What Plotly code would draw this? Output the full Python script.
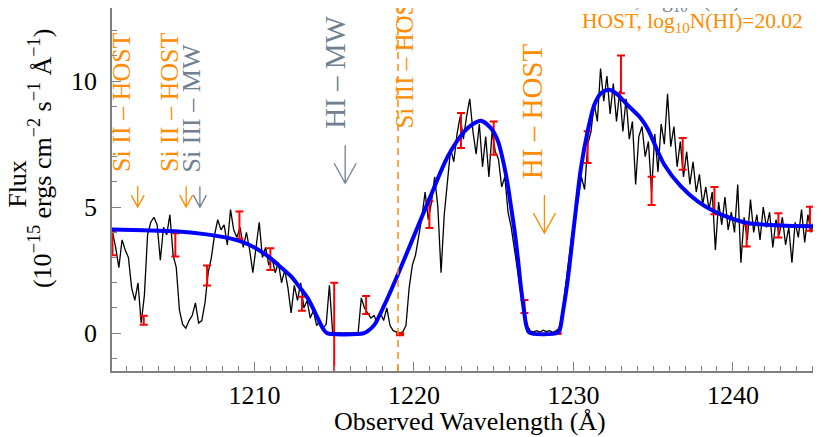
import plotly.graph_objects as go
import numpy as np

# observed spectrum, 0.2 A bins from 1201.1 to 1245.9 (one row per Angstrom)
wave_start = 1201.1
wave_end = 1245.9
flux = [
    4.0, 3.4, 2.6, 3.7, 3.3,     # 1201
    3.0, 1.8, 1.3, 2.0, 0.4,     # 1202
    1.5, 3.9, 4.4, 4.6, 4.3,     # 1203
    2.9, 4.2, 3.9, 4.7, 3.1,     # 1204
    2.6, 0.9, 0.35, 0.2, 0.5,    # 1205
    0.7, 1.2, 0.4, 0.5, 1.2,     # 1206
    2.4, 3.0, 3.9, 4.5, 4.1,     # 1207
    4.3, 3.5, 4.9, 4.1, 3.8,     # 1208
    4.2, 3.4, 4.0, 3.3, 2.4,     # 1209
    3.3, 4.4, 3.0, 3.4, 2.7,     # 1210
    3.0, 2.4, 2.8, 2.0, 2.5,     # 1211
    1.8, 0.8, 1.9, 1.3, 2.0,     # 1212
    1.0, 1.3, 0.6, 0.9, 0.3,     # 1213
    0.5, 0.2, 0.35, 1.9, 0.05,   # 1214
    0.0, 0.02, 0.0, 0.01, 0.0,   # 1215
    0.0, 0.02, 0.0, 1.4, 1.0,    # 1216
    0.8, 0.6, 0.7, 0.4, 0.8,     # 1217
    0.5, 1.0, 0.3, 0.1, 0.05,    # 1218
    0.0, 0.05, 0.3, 1.8, 2.7,    # 1219
    3.1, 3.8, 4.6, 5.6, 4.5,     # 1220
    5.2, 6.2, 5.0, 2.4, 4.7,     # 1221
    6.0, 7.3, 6.8, 7.9, 8.6,     # 1222
    7.7, 8.6, 9.3, 8.0, 7.1,     # 1223
    8.3, 6.6, 7.8, 6.2, 8.0,     # 1224
    7.2, 6.9, 5.8, 6.2, 4.8,     # 1225
    4.2, 3.3, 2.6, 1.6, 0.9,     # 1226
    0.3, 0.08, 0.05, 0.1, 0.04,  # 1227
    0.12, 0.06, 0.1, 0.03, 0.09, # 1228
    0.2, 0.8, 1.9, 2.9, 3.9,     # 1229
    4.6, 5.3, 6.2, 5.7, 7.5,     # 1230
    8.0, 9.1, 8.4, 10.5, 9.2,    # 1231
    10.2, 8.7, 9.9, 8.4, 9.6,    # 1232
    8.0, 9.3, 7.7, 8.4, 5.9,     # 1233
    7.8, 8.2, 7.0, 7.6, 5.6,     # 1234
    7.9, 6.4, 8.3, 7.5, 9.5,     # 1235
    7.4, 8.2, 6.6, 7.6, 6.2,     # 1236
    7.2, 5.9, 6.8, 5.6, 6.3,     # 1237
    5.1, 5.8, 4.9, 5.6, 3.3,     # 1238
    5.2, 4.3, 5.4, 4.1, 4.8,     # 1239
    4.0, 5.9, 2.8, 4.6, 3.7,     # 1240
    5.3, 4.0, 4.7, 3.7, 5.0,     # 1241
    4.2, 4.8, 3.4, 4.5, 3.9,     # 1242
    4.6, 3.5, 4.2, 2.8, 4.4,     # 1243
    3.8, 4.9, 3.6, 4.7, 4.0,     # 1244
    4.5, 3.7, 4.6, 4.1, 3.9,     # 1245
]
wave = np.linspace(wave_start, wave_end, len(flux))

# binned points with errors
err_wave = [1201.1, 1203.06, 1205.04, 1207.03, 1209.06, 1211.0, 1212.98, 1215.0,
            1217.0, 1219.13, 1220.97, 1222.95, 1225.0, 1226.93, 1229.01, 1230.89,
            1232.98, 1234.9, 1236.85, 1238.84, 1240.86, 1242.85, 1244.83]
err_flux = [3.57, 0.51, 3.5, 2.29, 4.29, 2.94, 1.17, 0.1,
            1.12, -0.04, 4.7, 8.04, 7.74, 1.06, 0.0, 7.38,
            10.27, 5.65, 7.11, 5.26, 3.87, 4.28, 4.54]
err_size = [0.48, 0.18, 0.46, 0.40, 0.54, 0.43, 0.28, 1.9,
            0.36, 0.04, 0.53, 0.69, 0.66, 0.26, 0.03, 0.63,
            0.75, 0.56, 0.63, 0.54, 0.43, 0.48, 0.48]

# DLA model fit
model_wave = [1201.07, 1203.0, 1205.0, 1207.0, 1208.0, 1209.0, 1210.0, 1211.0,
              1211.6, 1212.3, 1212.8, 1213.34, 1213.97, 1214.3, 1214.55, 1216.85,
              1217.1, 1217.52, 1218.15, 1218.98, 1220.03, 1221.07, 1222.12, 1223.16,
              1223.7, 1224.2, 1224.83, 1225.28, 1225.67, 1225.88, 1226.09, 1226.3,
              1226.51, 1226.71, 1226.9, 1227.03, 1227.24, 1229.0, 1229.15, 1229.33,
              1229.64, 1230.06, 1230.47, 1230.89, 1231.31, 1231.73, 1232.26, 1232.78,
              1233.4, 1234.22, 1234.66, 1235.7, 1236.74, 1237.79, 1238.84, 1239.88,
              1240.93, 1243.0, 1245.96]
model_flux = [4.11, 4.08, 4.04, 3.92, 3.82, 3.67, 3.40, 2.98,
              2.65, 2.25, 1.85, 1.39, 0.60, 0.18, 0.0, 0.0,
              0.08, 0.33, 1.12, 2.31, 3.90, 5.48, 7.01, 8.0,
              8.3, 8.43, 8.13, 7.6, 6.6, 5.9, 5.0, 4.1,
              3.0, 1.8, 0.9, 0.35, 0.02, 0.02, 0.15, 0.8,
              2.1, 4.4, 6.55, 8.0, 9.06, 9.52, 9.66, 9.46,
              9.05, 8.53, 8.1, 6.68, 5.82, 5.23, 4.83, 4.56,
              4.37, 4.27, 4.23]

# line identifications
line_names = ['Si II \u2013 HOST', 'Si II \u2013 HOST', 'Si III \u2013 MW', 'HI \u2013 MW', 'HI \u2013 HOST']
line_wave = [1202.68, 1205.72, 1206.58, 1215.69, 1228.18]   # arrow position
text_wave = [1201.62, 1204.64, 1206.04, 1215.01, 1227.40]   # label position
arrow_tip = [5.0, 5.0, 5.0, 5.95, 3.97]
text_base = [6.31, 6.31, 6.31, 8.02, 6.03]
si3_host_wave = 1219.0

ORANGE = '#FF8C00'
GRAY = '#708090'
SERIF = 'Liberation Serif'
line_colors = [ORANGE, ORANGE, GRAY, GRAY, ORANGE]
big = [False, False, False, True, True]

fig = go.Figure()

fig.add_trace(go.Scatter(
    x=wave, y=flux, mode='lines', line=dict(color='black', width=1.3),
    showlegend=False, hoverinfo='skip'
))

fig.add_trace(go.Scatter(
    x=err_wave, y=err_flux, mode='markers', marker=dict(size=1, color='red'),
    error_y=dict(type='data', array=err_size, color='red', thickness=2, width=4),
    showlegend=False
))

fig.add_trace(go.Scatter(
    x=model_wave, y=model_flux, mode='lines',
    line=dict(color='#0000FF', width=4, shape='spline', smoothing=0.8),
    showlegend=False
))

# Si III host line
fig.add_shape(type='line', xref='x', yref='paper', x0=si3_host_wave, x1=si3_host_wave,
              y0=0, y1=1, line=dict(color=ORANGE, width=1.5, dash='7px,5px'))
fig.add_annotation(x=si3_host_wave + 0.35, y=8.02, xref='x', yref='y',
                   text='Si III \u2013 HOST', showarrow=False, textangle=-90,
                   xanchor='center', yanchor='bottom',
                   font=dict(family=SERIF, size=25, color=ORANGE))

for i, name in enumerate(line_names):
    length, head, half = (38, 20, 11) if big[i] else (21, 12, 6.5)
    # open arrow pointing down, drawn in pixels from the tip
    fig.add_shape(type='path', xref='x', yref='y', xsizemode='pixel', ysizemode='pixel',
                  xanchor=line_wave[i], yanchor=arrow_tip[i],
                  path='M0,0 L0,%d M%g,%d L0,0 L%g,%d' % (length, -half, head, half, head),
                  line=dict(color=line_colors[i], width=1.3))
    fig.add_annotation(x=text_wave[i], y=text_base[i], xref='x', yref='y', text=name,
                       showarrow=False, textangle=-90, xanchor='center', yanchor='bottom',
                       font=dict(family=SERIF, size=29 if big[i] else 26, color=line_colors[i]))

fig.add_annotation(x=0.653, y=0.96, xref='paper', yref='paper',
                   text='HOST, log<sub>10</sub>N(HI)=20.02', showarrow=False,
                   xanchor='left', yanchor='middle',
                   font=dict(family=SERIF, size=21.5, color=ORANGE))
fig.add_annotation(x=0.674, y=1.018, xref='paper', yref='paper',
                   text='MW, log<sub>10</sub>N(HI)=20.60', showarrow=False,
                   xanchor='left', yanchor='middle',
                   font=dict(family=SERIF, size=21.5, color=GRAY))

# axis titles
fig.add_annotation(x=-0.133, y=0.515, xref='paper', yref='paper', text='Flux',
                   showarrow=False, textangle=-90, xanchor='center', yanchor='middle',
                   font=dict(family=SERIF, size=26, color='black'))
fig.add_annotation(x=-0.1, y=0.585, xref='paper', yref='paper',
                   text='(10<sup>\u221215</sup> ergs cm<sup>\u22122</sup> s<sup>\u22121</sup> \u00c5<sup>\u22121</sup>)',
                   showarrow=False, textangle=-90, xanchor='center', yanchor='middle',
                   font=dict(family=SERIF, size=26, color='black'))
fig.add_annotation(x=0.5, y=-0.138, xref='paper', yref='paper',
                   text='Observed Wavelength (\u00c5)', showarrow=False,
                   xanchor='center', yanchor='middle',
                   font=dict(family=SERIF, size=26, color='black'))

axis_common = dict(
    showgrid=False, zeroline=False, showline=True, linecolor='#808080', linewidth=1.5,
    ticks='inside', ticklen=9, tickwidth=1.2, tickcolor='#808080',
    tickfont=dict(family=SERIF, size=26, color='black'),
)

fig.update_xaxes(range=[1201.07, 1245.96], dtick=10, tick0=1200, mirror=False,
                 minor=dict(dtick=1, ticklen=5, tickcolor='#808080', ticks='inside'),
                 **axis_common)
fig.update_yaxes(range=[-1.5, 12.9], dtick=5, tick0=0, mirror='ticks', ticklabelstandoff=8,
                 minor=dict(dtick=1, ticklen=5, tickcolor='#808080', ticks='inside'),
                 **axis_common)

fig.update_layout(
    width=821, height=437,
    margin=dict(l=104, r=1, t=0, b=74),
    paper_bgcolor='white', plot_bgcolor='white',
    showlegend=False,
)

fig.write_html("out.html")
